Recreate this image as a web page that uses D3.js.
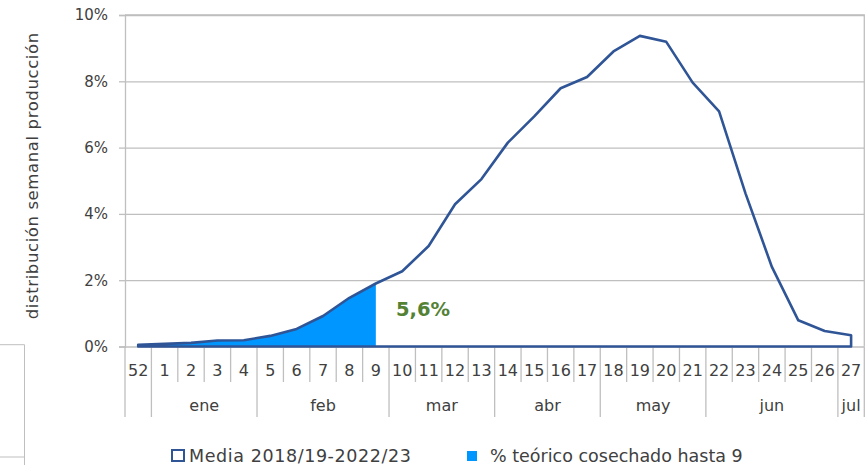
<!DOCTYPE html>
<html><head><meta charset="utf-8">
<script src="https://cdn.jsdelivr.net/npm/d3@7"></script>
<style>
html,body{margin:0;padding:0;background:#fff;}
svg{display:block;font-family:"DejaVu Sans",sans-serif;}
</style></head>
<body><svg id="c" width="867" height="465"></svg>
<script>
const weeks = ["52","1","2","3","4","5","6","7","8","9","10","11","12","13","14","15","16","17","18","19","20","21","22","23","24","25","26","27"];
const media = [0.05,0.08,0.11,0.18,0.19,0.32,0.53,0.92,1.47,1.90,2.27,3.03,4.29,5.05,6.15,6.94,7.79,8.13,8.90,9.37,9.19,7.96,7.09,4.62,2.40,0.79,0.47,0.34];
const harvestedUntil = "9";
const harvestLabel = "5,6%";
const monthLabels = ["","ene","feb","mar","abr","may","jun","jul"];
const monthSpans = [1,4,5,4,4,4,5,1];
const yTicks = [0,2,4,6,8,10];
const yTitle = "distribución semanal producción";
const legendLabels = ["Media 2018/19-2022/23","% teórico cosechado hasta 9"];

const svg = d3.select("#c");
const L = 125, R = 864.3, T = 15, B = 346.5;
const gray = "#bfbfbf", txt = "#404040", lineC = "#2F5597", fillC = "#0096FF";

const x = d3.scaleBand().domain(weeks).range([L, R]).padding(0);
const bw = x.bandwidth();
const cx = w => x(w) + bw/2;
const y = d3.scaleLinear().domain([0,10]).range([B, T]);

// left fragment of neighbouring object
svg.append("path").attr("d","M0,344.7H24.5V465M0,457H24.5").attr("fill","none").attr("stroke",gray).attr("stroke-width",1);

// gridlines
const grid = svg.append("g").attr("transform",`translate(${L},0)`)
  .call(d3.axisLeft(y).tickValues(yTicks).tickSize(-(R-L)).tickFormat(""));
grid.select(".domain").remove();
grid.selectAll("line").attr("stroke",gray).attr("stroke-width",1.3);

// y axis with labels
const ya = svg.append("g").attr("transform",`translate(${L},0)`)
  .call(d3.axisLeft(y).tickValues(yTicks).tickSize(6).tickPadding(11).tickFormat(d => d + "%"));
ya.select(".domain").attr("stroke",gray).attr("stroke-width",1.3);
ya.selectAll("line").attr("stroke",gray).attr("stroke-width",1.3);
ya.selectAll("text").attr("fill",txt).style("font-size","15px").style("font-family","DejaVu Sans");

// plot border top & right
svg.append("path").attr("d",`M${L},${T}H${R}V${B}`).attr("fill","none").attr("stroke",gray).attr("stroke-width",1.3);

// x axis: week labels & separators
const monthStarts = new Set();
let acc = 0;
monthSpans.forEach(s => { monthStarts.add(acc); acc += s; });
const xa = svg.append("g");
weeks.forEach((w,i) => {
  const full = monthStarts.has(i);
  xa.append("line").attr("x1",x(w)).attr("x2",x(w)).attr("y1",B).attr("y2", full ? 417 : 382)
    .attr("stroke",gray).attr("stroke-width",1.3);
});
xa.append("line").attr("x1",R).attr("x2",R).attr("y1",B).attr("y2",417).attr("stroke",gray).attr("stroke-width",1.3);
xa.selectAll("text.wk").data(weeks).join("text").attr("class","wk")
  .attr("x", d => cx(d)).attr("y", 376).attr("text-anchor","middle")
  .attr("fill",txt).style("font-size","16px").text(d => d);
acc = 0;
monthLabels.forEach((m,i) => {
  const a = x(weeks[acc]);
  const b = acc + monthSpans[i] < weeks.length ? x(weeks[acc + monthSpans[i]]) : R;
  acc += monthSpans[i];
  if (m) xa.append("text").attr("x",(a+b)/2).attr("y",411).attr("text-anchor","middle")
    .attr("fill",txt).style("font-size","16px").text(m);
});

// data
const data = weeks.map((w,i) => ({w, v: media[i]}));
const hIdx = weeks.indexOf(harvestedUntil);
const area = d3.area().x(d => cx(d.w)).y0(y(0)).y1(d => y(d.v));
svg.append("path").datum(data.slice(0, hIdx+1)).attr("d", area).attr("fill", fillC);
svg.append("path").datum(data).attr("d", d => area(d) ).attr("fill","none")
  .attr("stroke", lineC).attr("stroke-width", 2.6).attr("stroke-linejoin","round");

// harvest label
svg.append("text").attr("x", 396).attr("y", 316).attr("fill","#548235")
  .style("font-size","19.5px").style("font-weight","bold").text(harvestLabel);

// y title
svg.append("text").attr("transform",`translate(38,${(T+B)/2-5}) rotate(-90)`).attr("text-anchor","middle")
  .attr("fill",txt).style("font-size","16.5px").style("letter-spacing","0.6px").text(yTitle);

// legend
svg.append("rect").attr("x",172).attr("y",450).attr("width",12).attr("height",11)
  .attr("fill","#fff").attr("stroke",lineC).attr("stroke-width",2);
svg.append("text").attr("x",189).attr("y",462).attr("fill",txt).style("font-size","17.5px").style("letter-spacing","0.6px").text(legendLabels[0]);
svg.append("rect").attr("x",467).attr("y",451).attr("width",10).attr("height",10).attr("fill",fillC);
svg.append("text").attr("x",490).attr("y",462).attr("fill",txt).style("font-size","17.5px").text(legendLabels[1]);
</script></body></html>
